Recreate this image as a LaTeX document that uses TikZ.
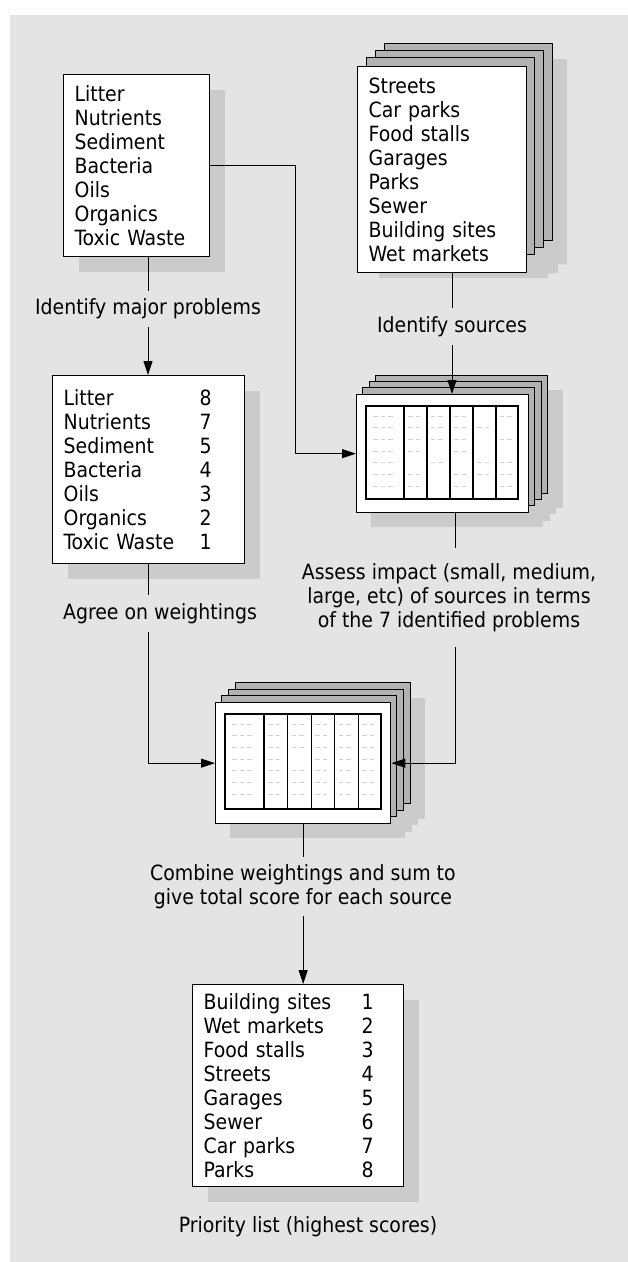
\documentclass[tikz,border=0pt]{standalone}
\usepackage{fontspec}
\setmainfont{DejaVu Sans Condensed}
\usetikzlibrary{arrows.meta,calc,positioning,shadows}

\definecolor{panelgray}{HTML}{E4E4E4}
\definecolor{shadowgray}{HTML}{CBCBCB}
\definecolor{pagegray}{HTML}{B2B2B2}
\definecolor{markgray}{HTML}{D2D2D2}

% score sheet grid: #1,#2 inner top left, #3 width, #4 height, #5 filled cells per row
\newcommand{\sheetgrid}[5]{%
  \draw[line width=1.3pt] (#1,#2) rectangle ++(#3,#4);
  \foreach \dx in {0.25,0.401,0.553,0.704,0.855}
    \draw[line width=1.3pt] (#1+\dx*#3,#2) -- ++(0,#4);
  \foreach \r/\cells in {#5}
    \foreach \c in \cells {
      \pgfmathsetmacro{\cx}{#1+{0,0.25,0.401,0.553,0.704,0.855}[\c-1]*#3+(\c==1 ? 7 : 4)}
      \pgfmathsetmacro{\len}{\c==1 ? 19.5 : 12}
      \draw[markgray,line width=1pt,dash pattern=on 4.5pt off 3pt] (\cx,#2+10+11.7*\r) -- ++(\len,0);
    }%
}

\begin{document}
\begin{tikzpicture}[x=1pt,y=-1pt,
  every node/.append style={font=\fontsize{21pt}{24pt}\selectfont},
  listbox/.style={draw,fill=white,line width=1.3pt,anchor=north west,align=left,
    inner xsep=11pt,inner ysep=0pt,
    general shadow={fill=shadowgray,shadow xshift=15pt,shadow yshift=-15pt}},
  sheet/.style={draw,fill=white,line width=1.3pt,anchor=north west,inner sep=0pt},
  page/.style={draw,fill=pagegray,line width=0.8pt},
  caption/.style={align=center,inner xsep=0pt,inner ysep=8pt},
  link/.style={line width=0.8pt},
  arrow/.style={link,-{Triangle[length=14pt,width=9pt]}}
]
\useasboundingbox (0,0) rectangle (628,1262);
\fill[panelgray] (10,15) rectangle (628,1262);

% problems list
\node[listbox,text width=124pt,minimum height=182pt] (problems) at (63,74)
  {Litter\\Nutrients\\Sediment\\Bacteria\\Oils\\Organics\\Toxic Waste};

% sources stack
\fill[shadowgray] (379,59) -- (567,59) -- (567,264) -- (558,264) -- (558,273)
  -- (548,273) -- (548,278) -- (379,278) -- cycle;
\foreach \i in {3,2,1}
  \draw[page] (357.5+8.8*\i,65-7.3*\i) rectangle ++(168,197);
\node[sheet,align=left,inner xsep=11pt,text width=147pt,minimum height=206pt] (sources) at (357,66)
  {Streets\\Car parks\\Food stalls\\Garages\\Parks\\Sewer\\Building sites\\Wet markets};

\node[caption] (lblproblems) at (148,309) {Identify major problems};
\node[caption] (lblsources) at (452,326.5) {Identify sources};

% weightings
\node[listbox,text width=170pt,minimum height=188pt] (weights) at (52,375)
  {\makebox[136pt][l]{Litter}8\\\makebox[136pt][l]{Nutrients}7\\
   \makebox[136pt][l]{Sediment}5\\\makebox[136pt][l]{Bacteria}4\\
   \makebox[136pt][l]{Oils}3\\\makebox[136pt][l]{Organics}2\\
   \makebox[136pt][l]{Toxic Waste}1};

% impact sheets
\foreach \i in {0,...,3}
  \fill[shadowgray] (371+6.5*\i,409-6.3*\i) rectangle ++(172,118);
\foreach \i in {3,2,1}
  \draw[page] (356+6.5*\i,394-6.3*\i) rectangle ++(172,118);
\node[sheet,minimum width=172pt,minimum height=118pt] (impact) at (356,394) {};
\sheetgrid{366}{406}{152}{93}{0/{1,2,3,4,6},1/{1,2,3,4,5},2/{1,2,3,4,6},3/{1,2,4},
  4/{1,3,5,6},5/{1,2,4,5,6},6/{1,2,4,6}}

\node[caption,inner ysep=15pt] (lblimpact) at (449,597.5)
  {Assess impact (small, medium,\\large, etc) of sources in terms\\of the 7 identified problems};
\node[caption] (lblweights) at (160,613.5) {Agree on weightings};

% combined sheets
\foreach \i in {0,...,3}
  \fill[shadowgray] (230+6.7*\i,717-6.4*\i) rectangle ++(175,121);
\foreach \i in {3,2,1}
  \draw[page] (215+6.7*\i,702-6.4*\i) rectangle ++(175,121);
\node[sheet,minimum width=175pt,minimum height=121pt] (combined) at (215,702) {};
\sheetgrid{225}{714}{156}{95}{0/{1,2,3,4,5,6},1/{1,2,3,4,5,6},2/{1,2,3,4,5,6},3/{1,2,4,5,6},
  4/{1,2,3,4,5,6},5/{1,2,3,4,5,6},6/{1,2,3,4,5,6}}

\node[caption,inner ysep=7pt] (lblcombine) at (303,886.5)
  {Combine weightings and sum to\\give total score for each source};

% priority list
\node[listbox,text width=189pt,minimum height=202pt] (priority) at (192,984)
  {\makebox[158pt][l]{Building sites}1\\\makebox[158pt][l]{Wet markets}2\\
   \makebox[158pt][l]{Food stalls}3\\\makebox[158pt][l]{Streets}4\\
   \makebox[158pt][l]{Garages}5\\\makebox[158pt][l]{Sewer}6\\
   \makebox[158pt][l]{Car parks}7\\\makebox[158pt][l]{Parks}8};
\node[caption] (lblpriority) at (308,1227) {Priority list (highest scores)};

% connectors
\coordinate (probturn) at (295,0);
\coordinate (impturn) at (455,0);
\draw[link] (lblproblems.north |- problems.south) -- (lblproblems.north);
\draw[arrow] (lblproblems.south) -- (lblproblems.south |- weights.north);
\draw[arrow] (problems.east) -| (probturn |- impact.west) -- (impact.west);
\draw[link] (lblsources.north |- sources.south) -- (lblsources.north);
\draw[arrow] (lblsources.south) -- (lblsources.south |- impact.north);
\draw[link] (impturn |- impact.south) -- (impturn |- lblimpact.north);
\draw[arrow] (impturn |- lblimpact.south) |- (combined.east);
\draw[link] (weights.south) -- (weights.south |- lblweights.north);
\draw[arrow] (weights.south |- lblweights.south) |- (combined.west);
\draw[link] (combined.south) -- (combined.south |- lblcombine.north);
\draw[arrow] (combined.south |- lblcombine.south) -- (combined.south |- priority.north);
\end{tikzpicture}
\end{document}
